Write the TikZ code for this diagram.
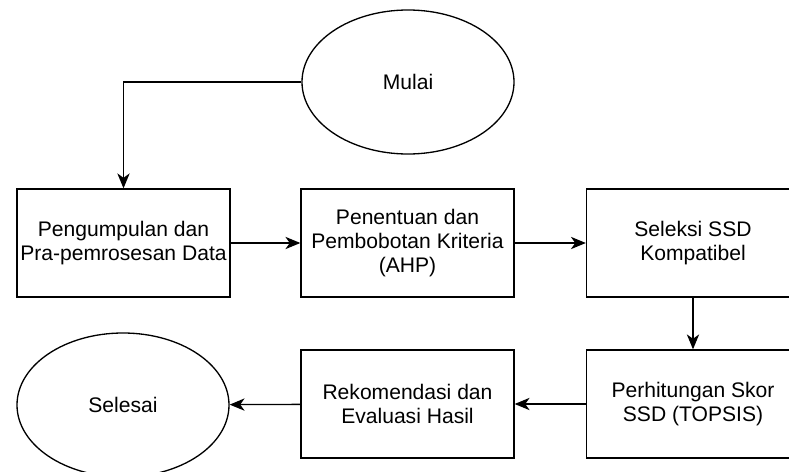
\documentclass[tikz,border=0pt]{standalone}
\usepackage{fontspec}
\setmainfont{Liberation Sans}
\usetikzlibrary{shapes.geometric,arrows.meta}

\begin{document}
\begin{tikzpicture}[
    proses/.style={draw,line width=0.75pt,minimum width=4.26cm,minimum height=2.16cm,align=center,inner sep=0pt},
    terminal/.style={draw,ellipse,line width=0.75pt,minimum width=4.24cm,minimum height=2.88cm,inner sep=0pt},
    panah/.style={-{Stealth[length=8.5pt,width=7pt,inset=2.5pt]},line width=0.75pt},
    font=\fontsize{12}{13.6}\selectfont]
  \clip (0,0) rectangle (15.78,-9.44);
  \node[terminal] (mulai)        at (8.16,-1.64) {Mulai};
  \node[proses]   (pengumpulan)  at (2.47,-4.86) {Pengumpulan dan\\Pra-pemrosesan Data};
  \node[proses]   (penentuan)    at (8.15,-4.86) {Penentuan dan\\Pembobotan Kriteria\\(AHP)};
  \node[proses]   (seleksi)      at (13.86,-4.86) {Seleksi SSD\\Kompatibel};
  \node[proses]   (perhitungan)  at (13.86,-8.08) {Perhitungan Skor\\SSD (TOPSIS)};
  \node[proses]   (rekomendasi)  at (8.15,-8.08) {Rekomendasi dan\\Evaluasi Hasil};
  \node[terminal] (selesai)      at (2.46,-8.10) {Selesai};
  \draw[panah] (mulai.west) -| (pengumpulan.north);
  \draw[panah] (pengumpulan) -- (penentuan);
  \draw[panah] (penentuan)   -- (seleksi);
  \draw[panah] (seleksi)     -- (perhitungan);
  \draw[panah] (perhitungan) -- (rekomendasi);
  \draw[panah] (rekomendasi) -- (selesai);
\end{tikzpicture}
\end{document}
